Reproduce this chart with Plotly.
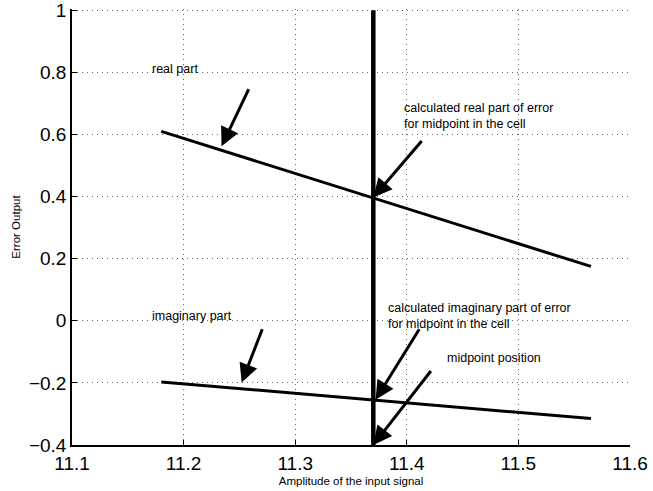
import plotly.graph_objects as go

# Data
real_x = [11.18, 11.37, 11.565]
real_y = [0.61, 0.395, 0.175]
imag_x = [11.18, 11.37, 11.565]
imag_y = [-0.197, -0.255, -0.315]
mid_x = [11.37, 11.37]
mid_y = [-0.4, 1.0]

x_ticks = [11.1, 11.2, 11.3, 11.4, 11.5, 11.6]
y_ticks = [-0.4, -0.2, 0, 0.2, 0.4, 0.6, 0.8, 1]
y_tick_text = ["\u22120.4", "\u22120.2", "0", "0.2", "0.4", "0.6", "0.8", "1"]

# arrows: (tail_x, tail_y, head_x, head_y)
arrows = [
    (11.259, 0.751, 11.234, 0.562),
    (11.4145, 0.584, 11.370, 0.397),
    (11.271, -0.0225, 11.252, -0.199),
    (11.412, -0.0225, 11.372, -0.254),
    (11.4226, -0.157, 11.370, -0.400),
]

# labels: (x, y, text)
labels = [
    (11.170, 0.812, "real part"),
    (11.396, 0.66, "calculated real part of error<br>for midpoint in the cell"),
    (11.170, 0.015, "imaginary part"),
    (11.381, 0.015, "calculated imaginary part of error<br>for midpoint in the cell"),
    (11.434, -0.12, "midpoint position"),
]

fig = go.Figure()
fig.add_trace(go.Scatter(x=real_x, y=real_y, mode="lines",
                         line=dict(color="black", width=3), showlegend=False))
fig.add_trace(go.Scatter(x=imag_x, y=imag_y, mode="lines",
                         line=dict(color="black", width=3), showlegend=False))
fig.add_trace(go.Scatter(x=mid_x, y=mid_y, mode="lines",
                         line=dict(color="black", width=4.5), showlegend=False))

for tx, ty, hx, hy in arrows:
    fig.add_annotation(x=hx, y=hy, ax=tx, ay=ty, xref="x", yref="y",
                       axref="x", ayref="y", showarrow=True, arrowhead=2,
                       arrowsize=1.25, arrowwidth=3, arrowcolor="black", text="")

for lx, ly, t in labels:
    fig.add_annotation(x=lx, y=ly, xref="x", yref="y", text=t, showarrow=False,
                       xanchor="left", yanchor="middle", align="left",
                       font=dict(family="Liberation Sans, Arial", size=12.5, color="black"))

grid = dict(showgrid=True, gridcolor="#666", griddash="1px,4px", gridwidth=1)

fig.update_layout(
    width=653, height=491,
    margin=dict(l=72, r=23, t=8.5, b=46),
    paper_bgcolor="white", plot_bgcolor="white",
    font=dict(family="Liberation Sans, Arial", color="black"),
    xaxis=dict(range=[11.1, 11.6], tickvals=x_ticks,
               ticktext=[f"{v:.1f}" for v in x_ticks], automargin=False,
               ticklabeloverflow="allow",
               showline=True, linecolor="black", linewidth=1.5, mirror=False,
               ticks="inside", ticklen=5, tickcolor="black",
               tickfont=dict(size=19), zeroline=False,
               title=dict(text="Amplitude of the input signal", font=dict(size=11.5), standoff=4),
               **grid),
    yaxis=dict(range=[-0.4, 1.004], tickvals=y_ticks, ticktext=y_tick_text,
               automargin=False, ticklabeloverflow="allow",
               showline=True, linecolor="black", linewidth=1.5, mirror=False,
               ticks="inside", ticklen=5, tickcolor="black",
               tickfont=dict(size=19), zeroline=False,
               title=dict(text="Error Output", font=dict(size=11.5), standoff=6),
               **grid),
)

fig.write_html("out.html", config={"displayModeBar": False},
               post_script="document.body.style.margin='0';")
